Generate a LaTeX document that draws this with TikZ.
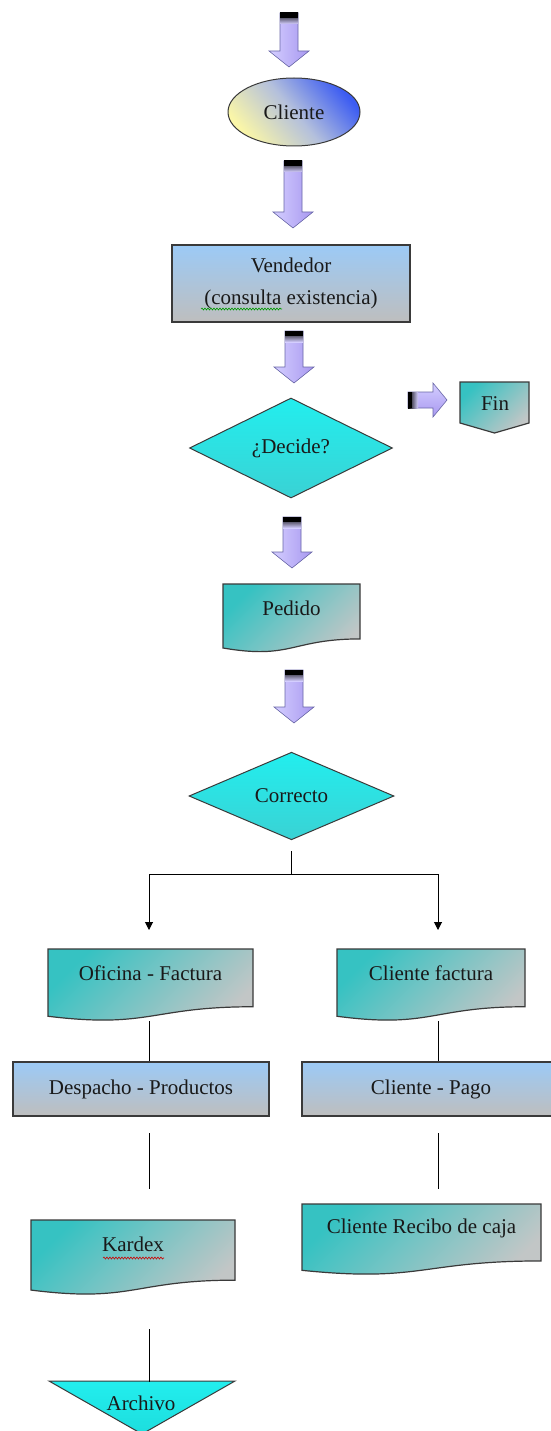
\documentclass[tikz,border=0pt]{standalone}
\usepackage{fontspec}
\setmainfont{Liberation Serif}
\usetikzlibrary{shapes.geometric,arrows.meta,decorations.pathmorphing,calc}
\definecolor{arrA}{HTML}{D4CEFF}
\definecolor{arrB}{HTML}{A898F0}
\definecolor{arrD}{HTML}{6A68A8}
\definecolor{ellY}{HTML}{FAF6A8}
\definecolor{ellM}{HTML}{B4C0DC}
\definecolor{ellB}{HTML}{3C5CF2}
\definecolor{rectT}{HTML}{9CCAF6}
\definecolor{rectB}{HTML}{BEBEBE}
\definecolor{diaT}{HTML}{22EEEE}
\definecolor{diaB}{HTML}{3AD2D4}
\definecolor{docA}{HTML}{36C2C2}
\definecolor{docB}{HTML}{C2C6C6}
\definecolor{edge}{HTML}{3A3A3A}
\newcommand{\varrow}[3]{%
  \shadedraw[left color=arrA, right color=arrB, draw=arrD, line width=0.6pt]
    (#1-9,#2) -- (#1+9,#2) -- (#1+9,#3-16) -- (#1+20,#3-16) -- (#1,#3)
    -- (#1-20,#3-16) -- (#1-9,#3-16) -- cycle;
  \shade[top color=black, bottom color=arrA] (#1-9,#2) rectangle (#1+9,#2+11);
  \fill[black] (#1-9,#2) rectangle (#1+9,#2+5);
}
\newcommand{\harrow}[3]{%
  \shadedraw[top color=arrA, bottom color=arrB, draw=arrD, line width=0.6pt]
    (#2,#1-8) -- (#3-14,#1-8) -- (#3-14,#1-17) -- (#3,#1) -- (#3-14,#1+17)
    -- (#3-14,#1+8) -- (#2,#1+8) -- cycle;
  \shade[left color=black, right color=arrA] (#2,#1-8) rectangle (#2+10,#1+8);
  \fill[black] (#2,#1-8) rectangle (#2+4,#1+8);
}
\newcommand{\docbox}[6]{%
  \shadedraw[docfill] (#2,#4) -- (#3,#4) -- (#3,#4+0.802*#5)
    .. controls ({(#2+#3)/2},#4+0.802*#5) and ({(#2+#3)/2},#4+1.107*#5) ..
    (#2,#4+0.934*#5) -- cycle;
  \node[lbl] (#1) at ({(#2+#3)/2},#4+24) {#6};
}
\begin{document}
\begin{tikzpicture}[x=1pt,y=-1pt,
  lbl/.style={font=\fontsize{21}{32}\selectfont, inner sep=0pt, align=center, text=black!90},
  docfill/.style={left color=docA, right color=docB, shading angle=45, draw=edge, line width=1.2pt},
  rectbox/.style={lbl, draw=edge, line width=1.4pt, top color=rectT, bottom color=rectB},
  dia/.style={lbl, diamond, draw=edge, line width=1pt, top color=diaT, bottom color=diaB},
  conn/.style={draw=black, line width=1pt},
  arr/.style={conn, -{Triangle[length=8pt,width=8pt]}},
  spell/.style={line width=0.6pt, decorate, decoration={snake, amplitude=1pt, segment length=3pt}}]
\useasboundingbox (0,0) rectangle (551,1431);
\clip (0,0) rectangle (551,1431);
\fill[white] (0,0) rectangle (551,1431);

% top block arrow and Cliente
\varrow{289}{13}{67}
\node[lbl, ellipse, draw=edge, line width=1pt, minimum width=132pt, minimum height=68pt,
  top color=ellB, bottom color=ellY, middle color=ellM, shading angle=-50] (cliente) at (294,112) {Cliente};
\varrow{293}{161}{228}

% Vendedor
\node[rectbox, minimum width=238pt, minimum height=77pt] (vendedor) at (291,283.5)
  {Vendedor\\(consulta existencia)};
\draw[spell, green!60!black] (201,309) -- (282,309);
\varrow{294}{331}{383}

% Decide
\node[dia, minimum width=203pt, minimum height=100pt] (decide) at (291,448) {¿Decide?};

% Fin
\harrow{400}{408}{447}
\shadedraw[docfill] (460,382) -- (529,382) -- (529,423) -- (494.5,433) -- (460,423) -- cycle;
\node[lbl] (fin) at (495,404) {Fin};

\varrow{292}{517}{568}
\docbox{pedido}{223}{360}{584}{68.5}{Pedido}
\varrow{294}{670}{723}

% Correcto
\node[dia, minimum width=205pt, minimum height=82pt] (correcto) at (291.5,796) {Correcto};
\coordinate (cstart) at (291,851);
\coordinate (split) at (291,874);
\coordinate (lt) at (149,930);
\coordinate (rt) at (438,930);
\draw[conn] (cstart) -- (split);
\draw[arr] (split) -| (lt);
\draw[arr] (split) -| (rt);

% second level
\docbox{oficina}{48}{253}{949}{72}{Oficina - Factura}
\docbox{cfactura}{337}{525}{949}{72}{Cliente factura}

\node[rectbox, minimum width=256pt, minimum height=54pt] (despacho) at (141,1089) {Despacho - Productos};
\node[rectbox, minimum width=258pt, minimum height=54pt] (pago) at (431,1089) {Cliente - Pago};

\coordinate (ofB) at (149,1021);
\coordinate (cfB) at (438,1021);
\draw[conn] (ofB) -- (despacho.north -| ofB);
\draw[conn] (cfB) -- (pago.north -| cfB);

\coordinate (l1a) at (149,1133);
\coordinate (l1b) at (149,1189);
\coordinate (r1a) at (438,1133);
\coordinate (r1b) at (438,1189);
\draw[conn] (l1a) -- (l1b);
\draw[conn] (r1a) -- (r1b);

\docbox{kardex}{31}{235}{1220}{75}{Kardex}
\draw[spell, red!80!black] (103,1258) -- (164,1258);
\docbox{recibo}{302}{541}{1204}{71}{Cliente Recibo de caja}

% Archivo
\shadedraw[draw=edge, line width=1pt, top color=diaT, bottom color=diaT!85!teal]
  (49,1381) -- (235,1381) -- (142,1434) -- cycle;
\node[lbl] (archivo) at (141,1403) {Archivo};
\coordinate (k1) at (149,1329);
\coordinate (k2) at (149,1382);
\draw[conn] (k1) -- (k2);
\end{tikzpicture}
\end{document}
